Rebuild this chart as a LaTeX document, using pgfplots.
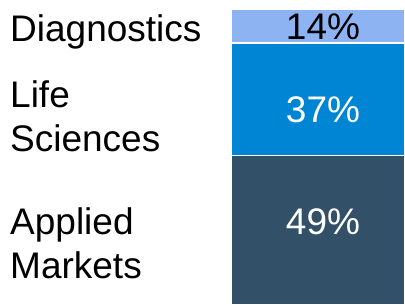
\documentclass[border=0pt]{standalone}
\usepackage{pgfplots}
\pgfplotsset{compat=1.18}
\usepackage{fontspec}
\setmainfont{Liberation Sans}
\definecolor{diag}{HTML}{8DB3F2}
\definecolor{life}{HTML}{0084D4}
\definecolor{appl}{HTML}{335069}
\begin{document}
\begin{tikzpicture}[x=1pt,y=1pt]
\path[use as bounding box] (0,0) rectangle (405,305);
\begin{axis}[
  at={(231pt,0pt)}, anchor=south west,
  scale only axis, width=174pt, height=294pt,
  ybar stacked, bar width=1,
  xmin=-0.5, xmax=0.5, ymin=0, ymax=96.5,
  axis lines=none, xtick=\empty, ytick=\empty,
  clip=true,
]
\addplot[fill=appl, draw=white, line width=1.5pt] coordinates {(0,49)};
\addplot[fill=life, draw=white, line width=1.5pt] coordinates {(0,37)};
\addplot[fill=diag, draw=white, line width=1.5pt] coordinates {(0,14)};
\end{axis}
\fontsize{37}{44}\selectfont
\node[anchor=base west, inner sep=0] at (10,263.3) {Diagnostics};
\node[anchor=base west, inner sep=0] at (10,197) {Life};
\node[anchor=base west, inner sep=0] at (10,153.3) {Sciences};
\node[anchor=base west, inner sep=0] at (10,70) {Applied};
\node[anchor=base west, inner sep=0] at (10,26) {Markets};
\node[anchor=base, inner sep=0, text=black] at (323,265) {14\%};
\node[anchor=base, inner sep=0, text=white] at (323,182) {37\%};
\node[anchor=base, inner sep=0, text=white] at (323,70) {49\%};
\end{tikzpicture}
\end{document}
